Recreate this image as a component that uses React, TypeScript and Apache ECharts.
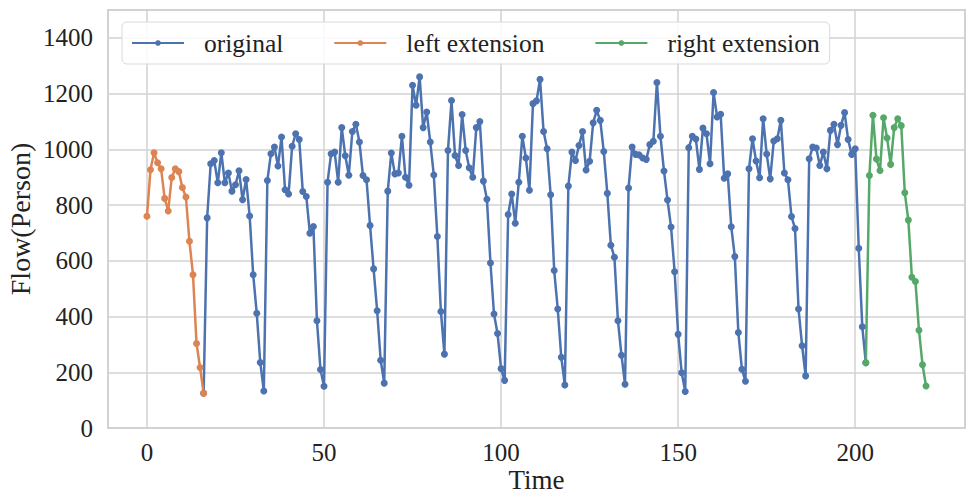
import React, { useEffect, useRef } from "react";
import * as echarts from "echarts";

// time index where each series starts
const originalStart = 16;
const leftStart = 0;
const rightStart = 203;

const originalValues = [
  125, 754, 948, 960, 880, 988, 880, 915, 850, 873, 923, 819, 892, 761, 550, 412, 235, 133,
  888, 984, 1008, 940, 1044, 855, 840, 1011, 1056, 1035, 849, 831, 699, 723, 385, 210, 150,
  882, 984, 990, 882, 1078, 977, 907, 1064, 1090, 1026, 906, 891, 727, 571, 421, 243, 161,
  850, 987, 912, 915, 1047, 900, 871, 1230, 1158, 1260, 1078, 1134, 1026, 908, 687, 418, 265,
  996, 1175, 978, 942, 1125, 996, 934, 900, 1078, 1100, 886, 821, 592, 409, 339, 213, 171,
  766, 840, 735, 882, 1047, 969, 853, 1164, 1174, 1251, 1064, 1002, 837, 565, 427, 254, 154,
  868, 990, 960, 1014, 1064, 926, 957, 1095, 1140, 1104, 992, 842, 656, 613, 385, 261, 157,
  861, 1008, 982, 980, 969, 964, 1017, 1029, 1240, 1047, 922, 818, 721, 561, 336, 198, 131,
  1006, 1047, 1037, 928, 1076, 1056, 948, 1204, 1116, 1126, 896, 912, 722, 615, 343, 211, 168,
  930, 1038, 958, 898, 1110, 983, 894, 1030, 1038, 1104, 915, 891, 759, 716, 427, 295, 187,
  966, 1008, 1005, 942, 990, 930, 1068, 1090, 1017, 1086, 1132, 1035, 982, 1002, 645, 363, 234,
];

const leftValues = [
  760, 927, 988, 952, 930, 824, 779, 899, 930, 920, 863, 829, 670, 550, 303, 217, 125,
];

const rightValues = [
  234, 906, 1122, 965, 924, 1113, 1041, 946, 1078, 1110, 1085, 844, 746, 541, 526, 351, 227, 151,
];

const seriesNames = ["original", "left extension", "right extension"];
const seriesColors = ["#4c72b0", "#dd8452", "#55a868"];

const toPairs = (start: number, vals: number[]) => vals.map((v, i) => [start + i, v]);

export default function App() {
  const ref = useRef<HTMLDivElement>(null);
  useEffect(() => {
    if (!ref.current) return;
    const chart = echarts.init(ref.current, null, { renderer: "svg" });
    const font = "'Liberation Serif', 'Times New Roman', serif";
    const gridColor = "#d2d2d2";
    const textColor = "#222222";
    const datasets = [
      toPairs(originalStart, originalValues),
      toPairs(leftStart, leftValues),
      toPairs(rightStart, rightValues),
    ];
    chart.setOption({
      animation: false,
      backgroundColor: "#ffffff",
      textStyle: { fontFamily: font },
      grid: {
        left: 108,
        top: 10,
        right: 3,
        bottom: 68,
        outerBoundsMode: "none",
        containLabel: false,
        show: true,
        borderColor: gridColor,
        borderWidth: 2,
        backgroundColor: "transparent",
      },
      legend: {
        left: 122,
        top: 22,
        padding: [8, 10, 8, 9],
        itemWidth: 52,
        itemHeight: 7,
        itemGap: 50,
        backgroundColor: "rgba(255,255,255,0.85)",
        borderColor: "#d9d9d9",
        borderWidth: 1,
        borderRadius: 5,
        data: seriesNames,
        textStyle: {
          fontFamily: font,
          fontSize: 25.5,
          color: textColor,
          padding: [0, 0, 0, 15],
        },
      },
      xAxis: {
        type: "value",
        min: -11,
        max: 231,
        splitNumber: 5,
        name: "Time",
        nameLocation: "middle",
        nameGap: 38,
        nameMoveOverlap: false,
        nameTextStyle: { fontFamily: font, fontSize: 27, color: textColor, lineHeight: 27 },
        axisLine: { show: false },
        axisTick: { show: false },
        axisLabel: {
          fontFamily: font,
          fontSize: 25,
          color: textColor,
          margin: 12,
          showMinLabel: false,
          showMaxLabel: false,
          formatter: (v: number) => String(v),
        },
        splitLine: { show: true, lineStyle: { color: gridColor, width: 1.5 } },
      },
      yAxis: {
        type: "value",
        min: 0,
        max: 1500,
        interval: 200,
        name: "Flow(Person)",
        nameLocation: "middle",
        nameGap: 74,
        nameMoveOverlap: false,
        nameTextStyle: { fontFamily: font, fontSize: 28, color: textColor },
        axisLine: { show: false },
        axisTick: { show: false },
        axisLabel: {
          fontFamily: font,
          fontSize: 25,
          color: textColor,
          margin: 15,
          showMaxLabel: false,
          formatter: (v: number) => String(v),
        },
        splitLine: { show: true, lineStyle: { color: gridColor, width: 1.5 } },
      },
      series: datasets.map((d, i) => ({
        name: seriesNames[i],
        type: "line",
        data: d,
        symbol: "circle",
        symbolSize: 7,
        showSymbol: true,
        color: seriesColors[i],
        lineStyle: { width: 2.5, color: seriesColors[i] },
        itemStyle: { color: seriesColors[i] },
        emphasis: { disabled: true },
        silent: true,
      })),
    });
    return () => chart.dispose();
  }, []);
  return (
    <div
      ref={ref}
      style={{ position: "fixed", left: 0, top: 0, width: 968, height: 496 }}
    />
  );
}
